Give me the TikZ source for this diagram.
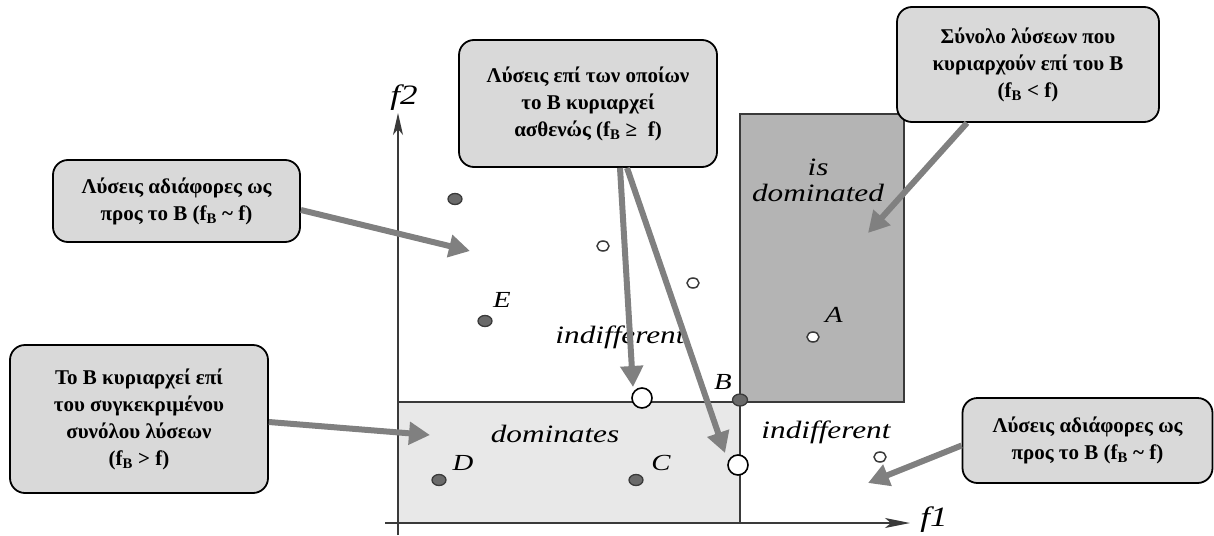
\documentclass[tikz,border=0pt]{standalone}
\usepackage{fontspec}
\setmainfont{Liberation Serif}
\newfontfamily\plotfont{Liberation Serif}[FakeStretch=1.25]
\usetikzlibrary{arrows.meta,shapes.geometric}
\definecolor{boxfill}{HTML}{D9D9D9}
\definecolor{domfill}{HTML}{B4B4B4}
\definecolor{lightfill}{HTML}{E8E8E8}
\definecolor{arrowgray}{HTML}{808080}
\definecolor{edgegray}{HTML}{3A3A3A}
\definecolor{ptfill}{HTML}{6A6A6A}

\begin{document}
\begin{tikzpicture}[x=1pt,y=-1pt,
  callout/.style={draw=black, line width=1.8pt, fill=boxfill, rounded corners=15pt,
    align=center, inner sep=0pt, font=\fontsize{21}{27}\selectfont\bfseries},
  callarrow/.style={draw=arrowgray, line width=6pt, -{Triangle[length=21pt,width=22pt]}},
  axisline/.style={draw=edgegray, line width=1.4pt},
  regionedge/.style={draw=edgegray, line width=1.2pt},
  regionlab/.style={font=\plotfont\itshape\fontsize{25}{26}\selectfont, align=center, inner sep=0pt},
  ptlab/.style={font=\plotfont\itshape\fontsize{23}{23}\selectfont, inner sep=0pt},
  axislab/.style={font=\plotfont\itshape\fontsize{28}{28}\selectfont, inner sep=0pt},
  darkpt/.style={ellipse, draw=edgegray, line width=1.3pt, fill=ptfill,
    minimum width=14pt, minimum height=11pt, inner sep=0pt},
  openpt/.style={ellipse, draw=edgegray, line width=1.5pt, fill=white,
    minimum width=12pt, minimum height=10pt, inner sep=0pt},
  bigpt/.style={circle, draw=black, line width=1.6pt, fill=white,
    minimum size=20pt, inner sep=0pt}]

\useasboundingbox (0,0) rectangle (1214,535);

% regions relative to B
\fill[lightfill] (399,402) rectangle (740,523);
\draw[regionedge] (399,402) -- (740,402) -- (740,523);
\draw[regionedge, fill=domfill] (740,114) rectangle (904,402);

% axes
\coordinate (xs) at (385,523);
\coordinate (xe) at (910,523);
\coordinate (ys) at (398,535);
\coordinate (ye) at (398,113);
\draw[axisline, -{Stealth[length=25pt,width=10pt,inset=6pt]}] (xs) -- (xe);
\draw[axisline, -{Stealth[length=22pt,width=10pt,inset=6pt]}] (ys) -- (ye);
\node[axislab] (f1) at (934,520) {f1};
\node[axislab] (f2) at (404,98) {f2};

% region labels
\node[regionlab] (ind1) at (620,337) {indifferent};
\node[regionlab] (ind2) at (826,432) {indifferent};
\node[regionlab] (dom) at (555,434) {dominates};
\node[regionlab] (isdom) at (818,180) {is\\dominated};

% solutions
\node[darkpt] (p1) at (455,199) {};
\node[darkpt] (pE) at (485,321) {};
\node[darkpt] (pD) at (439,480) {};
\node[darkpt] (pC) at (636,480) {};
\node[openpt] (p2) at (603,246) {};
\node[openpt] (p3) at (693,283) {};
\node[openpt] (pA) at (813,337) {};
\node[openpt] (p4) at (880,457) {};
\node[bigpt] (w1) at (642,398) {};
\node[bigpt] (w2) at (738,465) {};
\node[darkpt, minimum width=15pt, minimum height=12pt] (pB) at (740,400) {};

\node[ptlab] (lE) at (502,300) {E};
\node[ptlab] (lD) at (463,463) {D};
\node[ptlab] (lC) at (661,463) {C};
\node[ptlab] (lB) at (723,382) {B};
\node[ptlab] (lA) at (834,315) {A};

% callouts
\node[callout, minimum width=247pt, minimum height=82pt] (lbox) at (176.5,201)
  {Λύσεις αδιάφορες ως\\προς το Β (f\textsubscript{B} \textasciitilde\ f)};
\node[callout, minimum width=258pt, minimum height=127pt] (mbox) at (588,103.5)
  {Λύσεις επί των οποίων\\το Β κυριαρχεί\\ασθενώς (f\textsubscript{B} ≥\ \ f)};
\node[callout, minimum width=262pt, minimum height=115pt] (rbox) at (1028,64.5)
  {Σύνολο λύσεων που\\κυριαρχούν επί του Β\\(f\textsubscript{B} < f)};
\node[callout, minimum width=258pt, minimum height=148pt] (dbox) at (139,419)
  {Το Β κυριαρχεί επί\\του συγκεκριμένου\\συνόλου λύσεων\\(f\textsubscript{B} > f)};
\node[callout, minimum width=250pt, minimum height=85pt] (ibox) at (1087.5,440.5)
  {Λύσεις αδιάφορες ως\\προς το Β (f\textsubscript{B} \textasciitilde\ f)};

% arrow tips
\coordinate (t1) at (470,251);
\coordinate (t2) at (633,387);
\coordinate (t3) at (725,453);
\coordinate (t4) at (868,233);
\coordinate (t5) at (430,435);
\coordinate (t6) at (868,483);

\draw[callarrow] ([yshift=-9pt]lbox.east) -- (t1);
\draw[callarrow] ([xshift=32pt]mbox.south) -- (t2);
\draw[callarrow] ([xshift=39pt]mbox.south) -- (t3);
\draw[callarrow] ([xshift=-61pt]rbox.south) -- (t4);
\draw[callarrow] ([yshift=-3pt]dbox.east) -- (t5);
\draw[callarrow] ([yshift=-5pt]ibox.west) -- (t6);
\end{tikzpicture}
\end{document}
